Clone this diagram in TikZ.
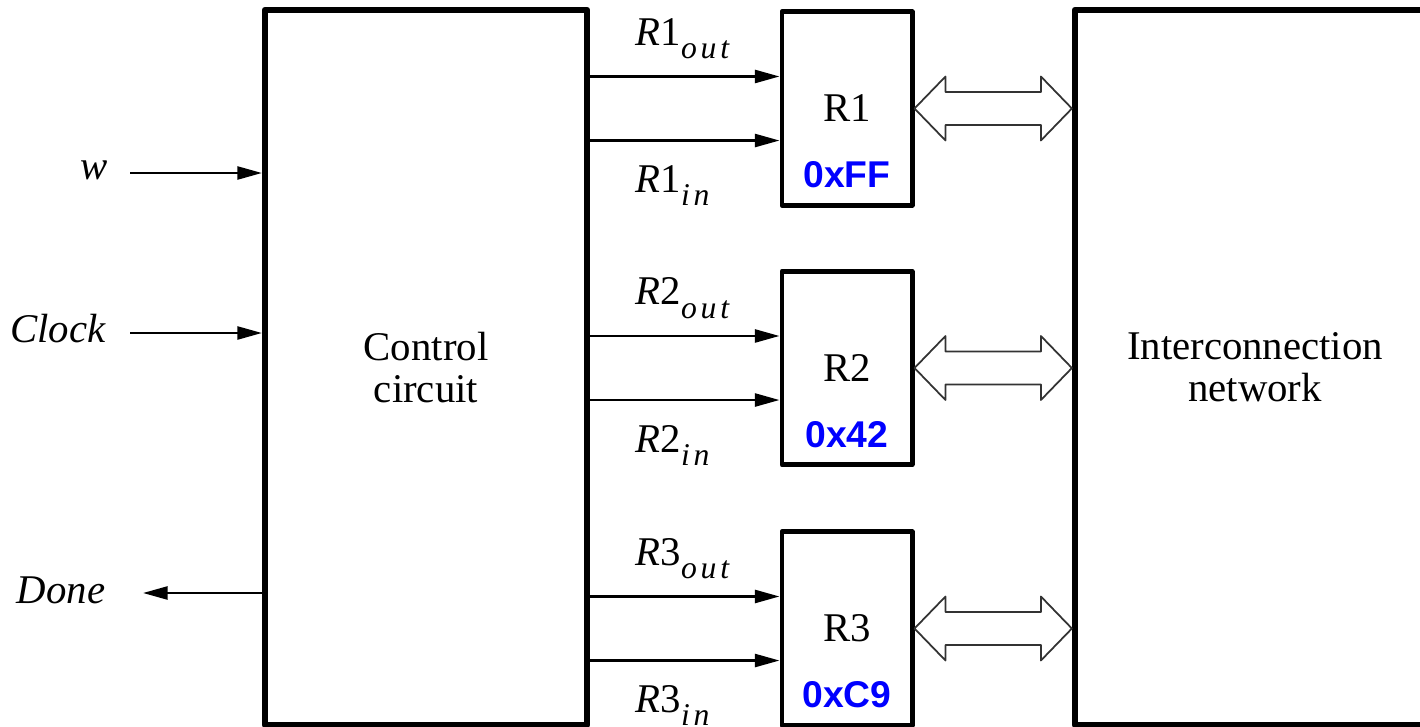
\documentclass[tikz,border=0pt]{standalone}
\usepackage{fontspec}
\setmainfont{Liberation Serif}
\newfontfamily\valfont{Liberation Sans}
\usetikzlibrary{arrows.meta,calc,positioning}
\tikzset{
  every picture/.style={line join=round, >={Triangle[length=7pt,width=3.7pt]}},
  bigbox/.style={draw, line width=1.7pt, align=center, font=\fontsize{11.6}{12}\selectfont},
  regbox/.style={draw, line width=1.4pt, minimum width=1.3cm, minimum height=1.93cm, font=\fontsize{11.6}{12}\selectfont},
  sig/.style={->, line width=0.7pt},
  lab/.style={inner sep=0pt, font=\fontsize{11.6}{12}\selectfont\itshape},
  val/.style={inner sep=0pt, text=blue, font=\fontsize{10.6}{12}\valfont\bfseries},
  bus/.style={draw=black!80, line width=0.5pt, fill=white},
}
\newcommand{\rsig}[2]{R\textup{#1}\raisebox{-0.32em}{\fontsize{9}{10}\selectfont\addfontfeature{LetterSpace=12}#2}}

\begin{document}
\begin{tikzpicture}[x=0.01cm,y=-0.01cm]
\useasboundingbox (0,0) rectangle (1420,727);
\clip (0,0) rectangle (1420,727);
% the two big blocks
\node[bigbox, minimum width=3.22cm, minimum height=7.15cm] (ctrl) at (426,367.5) {Control\\circuit};
\node[bigbox, minimum width=3.6cm, minimum height=7.15cm] (net) at (1255,367.5) {Interconnection\\network};
% inputs and output of the control circuit
\coordinate (w) at (130,173);
\coordinate (clk) at (130,333);
\coordinate (done) at (143,593);
\draw[sig] (w) -- (w -| ctrl.west);
\draw[sig] (clk) -- (clk -| ctrl.west);
\draw[sig] (done -| ctrl.west) -- (done);
\node[lab, anchor=base east] (wlab) at ($(w)+(-22,6)$) {w};
\node[lab, anchor=base east] (clklab) at ($(clk)+(-24,9)$) {Clock};
\node[lab, anchor=base east] (donelab) at ($(done)+(-37,10)$) {Done};
% registers
\foreach \i/\v/\y in {1/0xFF/108.5, 2/0x42/368, 3/0xC9/628.5}{
  \node[regbox] (R\i) at (847,\y) {R\i};
  \node[val, anchor=base] (v\i) at ($(R\i.center)+(0,79)$) {\v};
  \coordinate (R\i out) at ([yshift=0.32cm]R\i.west);
  \coordinate (R\i in) at ([yshift=-0.32cm]R\i.west);
  \draw[sig] (R\i out -| ctrl.east) -- (R\i out);
  \draw[sig] (R\i in -| ctrl.east) -- (R\i in);
  \node[lab, anchor=base west] (R\i outlab) at ($(R\i out -| ctrl.east)+(45,-31)$) {\rsig{\i}{out}};
  \node[lab, anchor=base west] (R\i inlab) at ($(R\i in -| ctrl.east)+(45,52)$) {\rsig{\i}{in}};
  \draw[bus] (R\i.east) -- ++(31,-32) -- ++(0,15.5) -- ($(R\i.east -| net.west)+(-31,-16.5)$)
    -- ++(0,-15.5) -- (R\i.east -| net.west) -- ++(-31,32) -- ++(0,-15.5)
    -- ($(R\i.east)+(31,16.5)$) -- ++(0,15.5) -- cycle;
}
\end{tikzpicture}
\end{document}
